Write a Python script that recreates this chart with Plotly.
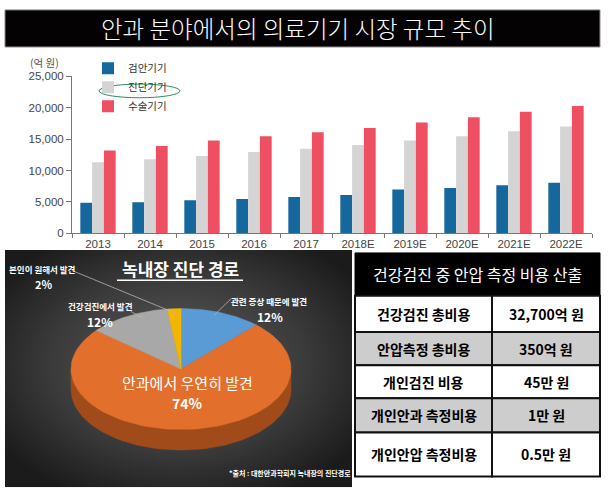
import base64
import numpy as np
import plotly.graph_objects as go

W, H = 609, 500

# ---------------- data ----------------
years = ["2013", "2014", "2015", "2016", "2017", "2018E", "2019E", "2020E", "2021E", "2022E"]
exam_devices = [4860, 4970, 5280, 5480, 5790, 6100, 6980, 7240, 7650, 8070]
diag_devices = [11330, 11800, 12310, 12940, 13450, 14070, 14800, 15470, 16250, 17020]
surg_devices = [13200, 13910, 14800, 15470, 16090, 16770, 17640, 18470, 19350, 20280]
series_names = ["검안기기", "진단기기", "수술기기"]
y_ticks = [0, 5000, 10000, 15000, 20000, 25000]

pie_labels = ["관련 증상 때문에 발견", "안과에서 우연히 발견", "건강검진에서 발견", "본인이 원해서 발견"]
pie_values = [12, 74, 12, 2]

table_title = "건강검진 중 안압 측정 비용 산출"
table_items = ["건강검진 총비용", "안압측정 총비용", "개인검진 비용", "개인안과 측정비용", "개인안압 측정비용"]
table_costs = ["32,700억 원", "350억 원", "45만 원", "1만 원", "0.5만 원"]

# ---------------- helpers ----------------
def px(x):
    return x / W

def py(y):
    return 1 - y / H

KR = "Noto Sans CJK KR"
AR = "Liberation Sans"

fig = go.Figure()

bar_colors = ["#15679d", "#d4d4d4", "#ee4f62"]
for name, vals, col in zip(series_names, [exam_devices, diag_devices, surg_devices], bar_colors):
    fig.add_trace(go.Bar(x=years, y=vals, name=name, marker=dict(color=col, line=dict(width=0)),
                         xaxis="x", yaxis="y"))

# ---------------- 3D-look elliptical pie ----------------
cx, cy, rx, ry, depth = 181, 372, 110, 62, 21
top_cols = ["#5b9bd5", "#e2702c", "#a8a8a8", "#f2b600"]
side_cols = ["#3c6e9c", "#a24b1a", "#727272", "#a87f00"]
bounds = np.concatenate([[0.0], np.cumsum(pie_values)]) / float(sum(pie_values)) * 2 * np.pi

def ell_pts(t0, t1, dy=0.0, n=80):
    t = np.linspace(t0, t1, n)
    return cx + rx * np.sin(t), cy - ry * np.cos(t) + dy

# side walls (front half only)
for i in range(len(pie_values)):
    a0, a1 = max(bounds[i], np.pi / 2), min(bounds[i + 1], 3 * np.pi / 2)
    if a1 <= a0:
        continue
    xt, yt = ell_pts(a0, a1)
    xb, yb = ell_pts(a0, a1, depth)
    xs = np.concatenate([xt, xb[::-1], xt[:1]])
    ys = np.concatenate([yt, yb[::-1], yt[:1]])
    fig.add_trace(go.Scatter(x=xs, y=ys, mode="lines", fill="toself", fillcolor=side_cols[i],
                             line=dict(color=side_cols[i], width=0.5), hoverinfo="skip",
                             showlegend=False, xaxis="x2", yaxis="y2"))
# top faces
for i in range(len(pie_values)):
    xa, ya = ell_pts(bounds[i], bounds[i + 1])
    xs = np.concatenate([[cx], xa, [cx]])
    ys = np.concatenate([[cy], ya, [cy]])
    fig.add_trace(go.Scatter(x=xs, y=ys, mode="lines", fill="toself", fillcolor=top_cols[i],
                             line=dict(color=top_cols[i], width=0.5), hoverinfo="text",
                             text=f"{pie_labels[i]} {pie_values[i]}%", showlegend=False,
                             xaxis="x2", yaxis="y2"))

shapes = []
annotations = []

def note(x, y, text, size, color, family=KR, ref="x2", weight=None):
    if ref == "paper":
        xv, yv, xr, yr = px(x), py(y), "paper", "paper"
    else:
        xv, yv, xr, yr = x, y, "x2", "y2"
    font = dict(family=family, size=size, color=color)
    if weight is not None:
        font["weight"] = weight
    annotations.append(dict(xref=xr, yref=yr, x=xv, y=yv, text=text, showarrow=False,
                            xanchor="center", yanchor="middle", font=font))

# title bar
shapes.append(dict(type="rect", xref="paper", yref="paper", x0=px(5), x1=px(600), y0=py(42), y1=py(4),
                   fillcolor="#050203", line=dict(color="#8a8a8a", width=1), layer="below"))
note(298, 23, "안과 분야에서의 의료기기 시장 규모 추이", 23.5, "white", weight=300)
# unit
note(44, 58, "(억 원)", 10.5, "#555")
# legend highlight ellipse
shapes.append(dict(type="circle", xref="paper", yref="paper", x0=px(99), x1=px(180), y0=py(94), y1=py(80),
                   line=dict(color="#2f8f5f", width=1)))

# pie panel background (radial gradient)
pw, ph = 347, 243
svg = (f'<svg xmlns="http://www.w3.org/2000/svg" width="{pw}" height="{ph}" viewBox="0 0 {pw} {ph}" '
       f'preserveAspectRatio="none"><defs><radialGradient id="g" cx="50%" cy="48%" r="62%">'
       f'<stop offset="0" stop-color="#5c5c5c"/><stop offset="0.6" stop-color="#3a3a3a"/>'
       f'<stop offset="1" stop-color="#1b1b1b"/></radialGradient></defs>'
       f'<rect width="{pw}" height="{ph}" fill="url(#g)"/></svg>')
src = "data:image/svg+xml;base64," + base64.b64encode(svg.encode()).decode()
images = [dict(source=src, xref="paper", yref="paper", x=px(5), y=py(250), sizex=pw / W, sizey=ph / H,
               xanchor="left", yanchor="top", sizing="stretch", layer="below")]

# pie title
note(180, 269, "<b>녹내장 진단 경로</b>", 17, "white")
shapes.append(dict(type="line", xref="x2", yref="y2", x0=117, x1=243, y0=281, y1=281,
                   line=dict(color="white", width=1.3)))

# leader lines
for (x0, y0, x1, y1) in [(72, 271, 176, 315), (131, 313, 143, 320), (231, 300, 214, 317)]:
    shapes.append(dict(type="line", xref="x2", yref="y2", x0=x0, y0=y0, x1=x1, y1=y1,
                       line=dict(color="#b5b5b5", width=0.8)))

# pie labels
label_pos = [((269, 302), (270, 318)), ((187, 386), (187, 407)), ((100, 307), (100, 323)), ((42, 269), (43, 285))]
label_sizes = [(8.5, 12), (15, 14), (8.5, 12), (8.5, 11)]
for lab, val, (p1, p2), (s1, s2) in zip(pie_labels, pie_values, label_pos, label_sizes):
    note(p1[0], p1[1], f"<b>{lab}</b>" if s1 < 10 else lab, s1, "white")
    note(p2[0], p2[1], f"<b>{val}%</b>", s2, "white")
note(290, 478, "<b>*출처 : 대한안과학회지 녹내장의 진단경로</b>", 7, "white")

# ---------------- table ----------------
tx0, tx1, tmid = 355, 600, 492
shapes.append(dict(type="rect", xref="x2", yref="y2", x0=tx0, x1=tx1, y0=253, y1=297,
                   fillcolor="black", line=dict(color="black", width=1)))
note((tx0 + tx1) / 2, 275, table_title, 16, "white")
row_edges = [297, 334, 368, 402, 437, 482]
for i, (item, cost) in enumerate(zip(table_items, table_costs)):
    fill = "#cdcdcd" if i % 2 == 1 else "white"
    y0, y1 = row_edges[i], row_edges[i + 1]
    shapes.append(dict(type="rect", xref="x2", yref="y2", x0=tx0, x1=tmid, y0=y0, y1=y1,
                       fillcolor=fill, line=dict(color="#111", width=2)))
    shapes.append(dict(type="rect", xref="x2", yref="y2", x0=tmid, x1=tx1, y0=y0, y1=y1,
                       fillcolor=fill, line=dict(color="#111", width=2)))
    note((tx0 + tmid) / 2, (y0 + y1) / 2, f"<b>{item}</b>", 14, "black")
    note((tmid + tx1) / 2, (y0 + y1) / 2, f"<b>{cost}</b>", 14, "black")

fig.update_layout(
    width=W, height=H,
    margin=dict(l=0, r=0, t=0, b=0),
    paper_bgcolor="white", plot_bgcolor="rgba(0,0,0,0)",
    barmode="group", bargap=0.32, bargroupgap=0.0,
    xaxis=dict(domain=[px(72), px(592)], anchor="y", showline=True, linecolor="#777", linewidth=1,
               ticks="outside", tickson="boundaries", ticklen=4, tickcolor="#777", showgrid=False,
               tickfont=dict(family=AR, size=11.5, color="#444"), fixedrange=True),
    yaxis=dict(domain=[py(233), py(72)], anchor="x", range=[0, 25000], tickvals=y_ticks, tickformat=",",
               showline=True, linecolor="#777", linewidth=1, ticks="outside", ticklen=5, tickcolor="#777",
               showgrid=False, zeroline=False, tickfont=dict(family=AR, size=11.5, color="#444"),
               fixedrange=True),
    xaxis2=dict(domain=[0, 1], anchor="y2", range=[0, W], visible=False, fixedrange=True),
    yaxis2=dict(domain=[0, 1], anchor="x2", range=[H, 0], visible=False, fixedrange=True),
    legend=dict(x=px(88), y=py(49), xanchor="left", yanchor="top", bgcolor="rgba(0,0,0,0)",
                font=dict(family=KR, size=10.5, color="#333"), itemwidth=30, tracegroupgap=0),
    shapes=shapes, annotations=annotations, images=images,
    hovermode="closest",
)

fig.write_html("out.html", config={"displayModeBar": False},
               post_script="document.body.style.margin='0';")
